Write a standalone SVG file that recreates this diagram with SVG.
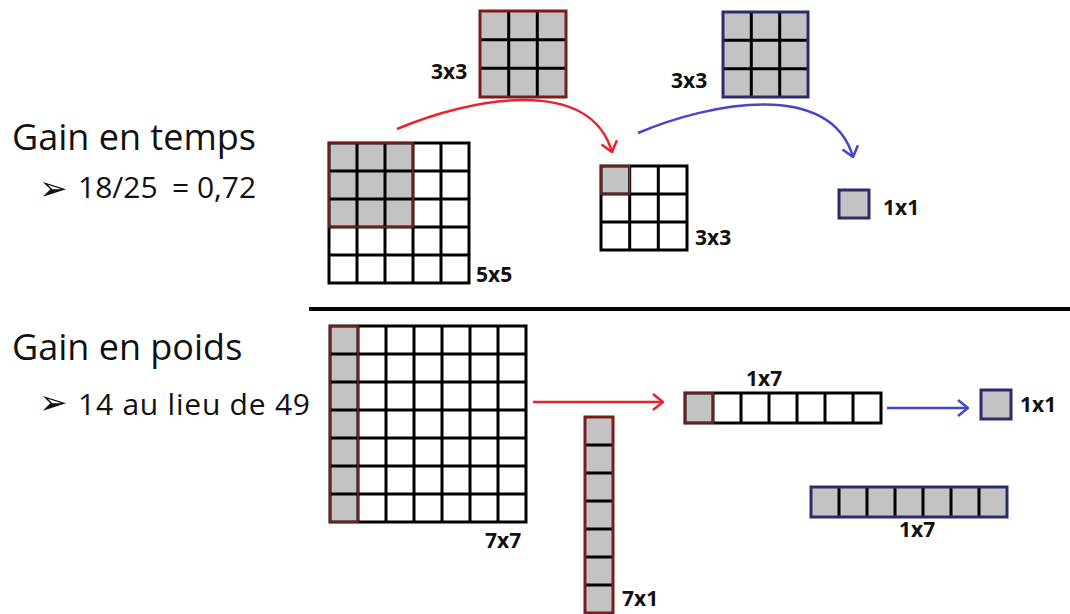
<svg xmlns="http://www.w3.org/2000/svg" width="1070" height="614" viewBox="0 0 1070 614">
<defs>
<style>
.bg{fill:#ffffff}
.gray{fill:#c3c3c3}
.grid{fill:none;stroke:#000;stroke-width:3}
.rb{fill:none;stroke:#7a1c1c;stroke-width:3}
.rh{fill:none;stroke:#9a2424;stroke-width:1.5}
.bb{fill:none;stroke:#2c2c6a;stroke-width:3}
.lbl{font-family:"Open Sans","Liberation Sans",sans-serif;font-weight:700;font-size:21px;fill:#111}
.h{font-family:"Open Sans","Liberation Sans",sans-serif;font-size:36px;fill:#111}
.b{font-family:"Open Sans","Liberation Sans",sans-serif;font-size:30px;fill:#111}
.bul{font-family:"DejaVu Sans",sans-serif;font-size:34px;fill:#111}
.ar{fill:none;stroke:#e8232d;stroke-width:2.5}
.ab{fill:none;stroke:#4646cc;stroke-width:2.5}
</style>
<marker id="mr" viewBox="0 0 12 18" refX="11" refY="9" markerWidth="12" markerHeight="18" markerUnits="userSpaceOnUse" orient="auto">
<path d="M1,1 L11,9 L1,17" fill="none" stroke="#e8232d" stroke-width="2.5"/>
</marker>
<marker id="mb" viewBox="0 0 12 18" refX="11" refY="9" markerWidth="12" markerHeight="18" markerUnits="userSpaceOnUse" orient="auto">
<path d="M1,1 L11,9 L1,17" fill="none" stroke="#4646cc" stroke-width="2.5"/>
</marker>
</defs>
<rect width="1070" height="614" fill="#fff"/>

<g id="text-left">
<text class="h" x="12" y="150">Gain en temps</text>
<text class="bul" x="39" y="200">➢</text>
<text class="b" x="78" y="198">18/25</text>
<text class="b" x="172" y="198">= 0,72</text>
<text class="h" x="12" y="360">Gain en poids</text>
<text class="bul" x="39" y="414">➢</text>
<text class="b" x="78" y="415" textLength="232" lengthAdjust="spacing">14 au lieu de 49</text>
</g>

<line x1="309" y1="309" x2="1070" y2="309" stroke="#000" stroke-width="4"/>

<g id="input-5x5">
<rect class="bg" x="329" y="143" width="140" height="140"/>
<rect class="gray" x="329" y="143" width="84" height="84"/>
<path class="grid" d="M357,143V283M385,143V283M413,143V283M441,143V283M329,171H469M329,199H469M329,227H469M329,255H469"/>
<rect class="grid" x="329" y="143" width="140" height="140"/>
<rect class="rh" x="329" y="143" width="84" height="84"/>
<text class="lbl" x="476" y="282">5x5</text>
</g>

<g id="kernel-red-3x3">
<rect class="gray" x="480" y="11" width="86" height="86"/>
<path class="grid" d="M508.7,11V97M537.3,11V97M480,39.7H566M480,68.3H566"/>
<rect class="rb" x="480" y="11" width="86" height="86"/>
<text class="lbl" x="431" y="79">3x3</text>
</g>

<g id="result-3x3">
<rect class="bg" x="601" y="166" width="86" height="84"/>
<rect class="gray" x="601" y="166" width="28.7" height="28"/>
<path class="grid" d="M629.7,166V250M658.3,166V250M601,194H687M601,222H687"/>
<rect class="grid" x="601" y="166" width="86" height="84"/>
<rect class="rh" x="601" y="166" width="28.7" height="28"/>
<text class="lbl" x="695" y="245">3x3</text>
</g>

<g id="kernel-blue-3x3">
<rect class="gray" x="723" y="12" width="85" height="85"/>
<path class="grid" d="M751.3,12V97M779.7,12V97M723,40.3H808M723,68.7H808"/>
<rect class="bb" x="723" y="12" width="85" height="85"/>
<text class="lbl" x="671" y="88">3x3</text>
</g>

<g id="output-1x1-top">
<rect class="gray" x="839" y="190" width="30" height="28"/>
<rect class="bb" x="839" y="190" width="30" height="28"/>
<text class="lbl" x="883" y="215">1x1</text>
</g>

<g id="input-7x7">
<rect class="bg" x="330" y="326" width="196" height="196"/>
<rect class="gray" x="330" y="326" width="28" height="196"/>
<path class="grid" d="M358,326V522M386,326V522M414,326V522M442,326V522M470,326V522M498,326V522M330,354H526M330,382H526M330,410H526M330,438H526M330,466H526M330,494H526"/>
<rect class="grid" x="330" y="326" width="196" height="196"/>
<rect class="rh" x="330" y="326" width="28" height="196"/>
<text class="lbl" x="485" y="548">7x7</text>
</g>

<g id="kernel-7x1">
<rect class="gray" x="585" y="417" width="28" height="196"/>
<path class="grid" d="M585,445H613M585,473H613M585,501H613M585,529H613M585,557H613M585,585H613"/>
<rect class="rb" x="585" y="417" width="28" height="196"/>
<text class="lbl" x="622" y="606">7x1</text>
</g>

<g id="result-1x7">
<rect class="bg" x="685" y="393" width="196" height="30"/>
<rect class="gray" x="685" y="393" width="28" height="30"/>
<path class="grid" d="M713,393V423M741,393V423M769,393V423M797,393V423M825,393V423M853,393V423"/>
<rect class="grid" x="685" y="393" width="196" height="30"/>
<rect class="rh" x="685" y="393" width="28" height="30"/>
<text class="lbl" x="746" y="386">1x7</text>
</g>

<g id="output-1x1-bottom">
<rect class="gray" x="981" y="390" width="30" height="29"/>
<rect class="bb" x="981" y="390" width="30" height="29"/>
<text class="lbl" x="1020" y="412">1x1</text>
</g>

<g id="kernel-1x7">
<rect class="gray" x="811" y="487" width="196" height="30"/>
<path class="grid" d="M839,487V517M867,487V517M895,487V517M923,487V517M951,487V517M979,487V517"/>
<rect class="bb" x="811" y="487" width="196" height="30"/>
<text class="lbl" x="899" y="537">1x7</text>
</g>

<g id="connectors">
<path class="ar" d="M397,129 C470,98 590,75 612,152" marker-end="url(#mr)"/>
<path class="ab" d="M638,133 C711,102 831,80 853,157" marker-end="url(#mb)"/>
<path class="ar" d="M533,402 H663" marker-end="url(#mr)"/>
<path class="ab" d="M887,408 H968" marker-end="url(#mb)"/>
</g>
</svg>
